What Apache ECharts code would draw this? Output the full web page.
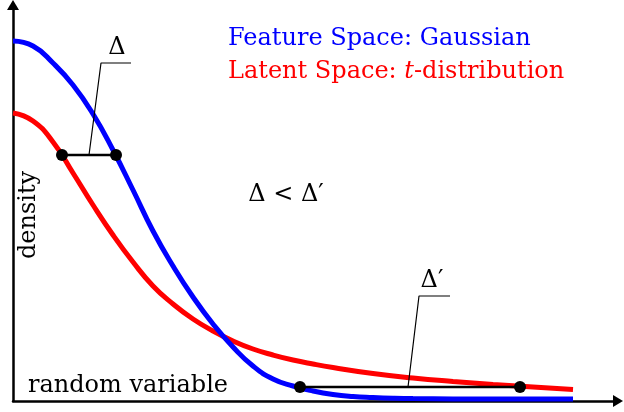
<!DOCTYPE html>
<html><head><meta charset="utf-8">
<script src="https://cdn.jsdelivr.net/npm/echarts@6/dist/echarts.min.js"></script>
<style>html,body{margin:0;padding:0;background:#fff}#c{width:624px;height:412px}</style>
</head><body><div id="c"></div>
<script>
// Gaussian (feature space) density
const blueX = [0,0.2,0.4,0.6,0.8,1.0,1.2,1.4,1.6,1.8,2.0,2.2,2.4,2.6,2.8,3.0,3.2,3.4,3.6,3.8,4.0,4.4,4.8,5.2,5.6];
const blueY = [3.60,3.55,3.38,3.16,2.87,2.51,2.11,1.70,1.35,1.04,0.77,0.54,0.35,0.22,0.15,0.10,0.065,0.045,0.035,0.028,0.024,0.021,0.02,0.02,0.02];
// t-distribution (latent space) density
const redX = [0,0.2,0.4,0.6,0.8,1.0,1.2,1.4,1.6,1.8,2.0,2.2,2.4,2.6,2.8,3.0,3.2,3.6,4.0,4.4,4.8,5.2,5.6];
const redY = [2.88,2.80,2.59,2.28,1.96,1.66,1.39,1.15,0.97,0.82,0.70,0.60,0.52,0.46,0.41,0.37,0.335,0.275,0.23,0.195,0.165,0.14,0.115];
// Delta segments (x-distance between the curves at equal density)
const deltaSeg = [[0.49,2.46],[1.03,2.46]];
const deltaPrimeSeg = [[2.87,0.14],[5.07,0.14]];
// leader lines from segment to label
const deltaLeader = [[0.76,2.46],[0.88,3.38],[1.18,3.38]];
const deltaPrimeLeader = [[3.95,0.14],[4.06,1.05],[4.37,1.05]];
// texts
const seriesNames = ['Feature Space: Gaussian', 'Latent Space: ', 't', '-distribution'];
const axisNames = ['random variable', 'density'];
const annotations = ['\u0394', '\u0394\u2032', '\u0394 < \u0394\u2032'];

const zip = (xs, ys) => xs.map((x, i) => [x, ys[i]]);
const FONT = "'DejaVu Serif', serif";
const chart = echarts.init(document.getElementById('c'), null, {renderer: 'canvas'});
chart.setOption({
  animation: false,
  backgroundColor: '#fff',
  grid: {left: 13, right: 6, top: 5, bottom: 11},
  xAxis: {type: 'value', min: 0, max: 6.05, splitLine: {show: false}, axisTick: {show: false}, axisLabel: {show: false},
    axisLine: {onZero: false, lineStyle: {color: '#000', width: 2.5}, symbol: ['none', 'triangle'], symbolSize: [12, 10]}},
  yAxis: {type: 'value', min: 0, max: 3.96, splitLine: {show: false}, axisTick: {show: false}, axisLabel: {show: false},
    axisLine: {show: true, onZero: false, lineStyle: {color: '#000', width: 2.5}, symbol: ['none', 'triangle'], symbolSize: [12, 10]}},
  series: [
    {type: 'line', data: zip(redX, redY), smooth: 0.5, showSymbol: false, lineStyle: {color: '#ff0000', width: 5}, z: 2},
    {type: 'line', data: zip(blueX, blueY), smooth: 0.5, showSymbol: false, lineStyle: {color: '#0000ff', width: 5}, z: 3},
    {type: 'line', data: deltaLeader, showSymbol: false, lineStyle: {color: '#000', width: 1.2}, z: 4},
    {type: 'line', data: deltaPrimeLeader, showSymbol: false, lineStyle: {color: '#000', width: 1.2}, z: 4},
    {type: 'line', data: deltaSeg, showSymbol: false, lineStyle: {color: '#000', width: 2.5}, z: 5},
    {type: 'line', data: deltaPrimeSeg, showSymbol: false, lineStyle: {color: '#000', width: 2.5}, z: 5},
    {type: 'scatter', data: deltaSeg.concat(deltaPrimeSeg), symbol: 'circle', symbolSize: 12, itemStyle: {color: '#000', opacity: 1}, z: 6}
  ],
  graphic: [
    {type: 'text', x: 228, y: 39, style: {text: seriesNames[0], font: '24px ' + FONT, fill: '#0000ff', textAlign: 'left', textVerticalAlign: 'middle'}},
    {type: 'text', x: 228, y: 72, style: {text: '{a|' + seriesNames[1] + '}{b|' + seriesNames[2] + '}{a|' + seriesNames[3] + '}',
      textAlign: 'left', textVerticalAlign: 'middle',
      rich: {a: {font: '24px ' + FONT, fill: '#ff0000', fontSize: 24, fontFamily: FONT, color: '#ff0000'},
             b: {font: 'italic 24px ' + FONT, fill: '#ff0000', fontSize: 24, fontStyle: 'italic', fontFamily: FONT, color: '#ff0000'}}}},
    {type: 'text', x: 28, y: 386, style: {text: axisNames[0], font: '24px ' + FONT, fill: '#000', textAlign: 'left', textVerticalAlign: 'middle'}},
    {type: 'text', x: 29, y: 215, rotation: Math.PI / 2, style: {text: axisNames[1], font: '24px ' + FONT, fill: '#000', textAlign: 'center', textVerticalAlign: 'middle'}},
    {type: 'text', x: 117, y: 48, style: {text: annotations[0], font: '24px ' + FONT, fill: '#000', textAlign: 'center', textVerticalAlign: 'middle'}},
    {type: 'text', x: 432, y: 281, style: {text: annotations[1], font: '24px ' + FONT, fill: '#000', textAlign: 'center', textVerticalAlign: 'middle'}},
    {type: 'text', x: 286, y: 195, style: {text: annotations[2], font: '24px ' + FONT, fill: '#000', textAlign: 'center', textVerticalAlign: 'middle'}}
  ]
});
</script></body></html>
